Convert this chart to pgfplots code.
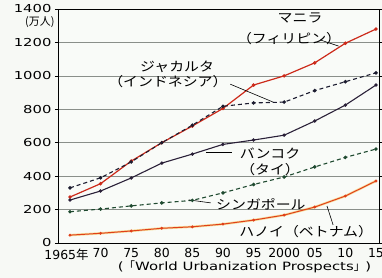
\documentclass[border=0pt]{standalone}
\usepackage{pgfplots}
\pgfplotsset{compat=1.18}
\usepackage{fontspec}
\setmainfont{DejaVu Sans}
\newfontfamily\jp[FakeStretch=1.15]{Noto Sans CJK JP}
\newfontfamily\jpn{Noto Sans CJK JP}
\newfontfamily\ylab[FakeStretch=1.35]{DejaVu Sans}
\newfontfamily\srcf[FakeStretch=1.3]{DejaVu Sans}
\definecolor{bg}{HTML}{F7F9F5}
\definecolor{manila}{HTML}{CC2A1A}
\definecolor{hanoi}{HTML}{E0401A}
\definecolor{hanoiglow}{HTML}{F5C040}
\definecolor{bangkok}{HTML}{2A2038}
\definecolor{jakarta}{HTML}{1C1C30}
\definecolor{sing}{HTML}{1F4A30}
\definecolor{gridc}{HTML}{8A8F8A}
\begin{document}
\begin{tikzpicture}[x=1bp,y=1bp]
\fill[bg] (0,0) rectangle (382,278);
\begin{axis}[
  at={(58bp,35bp)}, anchor=south west,
  scale only axis, width=321bp, height=234bp,
  xmin=1963.04, xmax=2015.5, ymin=0, ymax=1400,
  xtick={1965,1970,...,2015},
  xticklabels={\makebox[0pt]{1965{\jpn 年}\hspace{7bp}},70,75,80,85,90,95,2000,05,10,15},
  ytick={0,200,...,1400},
  yticklabels={0,200,400,600,800,1000,1200,\raisebox{2bp}{1400}},
  /pgf/number format/assume math mode=true,
  xticklabel style={font=\fontsize{12.5}{13}\selectfont, yshift=1bp},
  yticklabel style={font=\ylab\fontsize{11}{12}\selectfont, xshift=0bp},
  xtick style={draw=none},
  ytick style={black, line width=0.6pt},
  tick align=outside, major tick length=3bp,
  ymajorgrids, grid style={gridc, line width=0.5pt},
  axis line style={black, line width=0.9pt},
  clip=false,
  axis background/.style={fill=white, fill opacity=0.35},
]
% Manila
\addplot[manila, line width=1.2pt, mark=*, mark size=1.1pt] coordinates {
(1965,275)(1970,355)(1975,490)(1980,600)(1985,700)(1990,805)(1995,945)(2000,1000)(2005,1078)(2010,1195)(2015,1280)};
% Jakarta
\addplot[jakarta, line width=1.1pt, dash pattern=on 4bp off 3bp, mark=*, mark size=1.2pt, mark options={solid}] coordinates {
(1965,330)(1970,390)(1975,485)(1980,600)(1985,705)(1990,818)(1995,838)(2000,843)(2005,912)(2010,965)(2015,1018)};
% Bangkok
\addplot[bangkok, line width=1.1pt, mark=*, mark size=1.1pt] coordinates {
(1965,257)(1970,311)(1975,389)(1980,478)(1985,532)(1990,590)(1995,616)(2000,645)(2005,730)(2010,825)(2015,945)};
% Singapore
\addplot[sing, line width=1.1pt, dash pattern=on 4bp off 3bp, mark=*, mark size=1.2pt, mark options={solid}] coordinates {
(1965,187)(1970,203)(1975,222)(1980,240)(1985,255)(1990,300)(1995,350)(2000,395)(2005,455)(2010,512)(2015,562)};
% Hanoi (glow + line)
\addplot[hanoiglow, line width=2.4pt, opacity=0.5, forget plot] coordinates {
(1965,47)(1970,58)(1975,72)(1980,88)(1985,97)(1990,113)(1995,137)(2000,167)(2005,215)(2010,281)(2015,371)};
\addplot[hanoi, line width=1pt, mark=*, mark size=0.9pt] coordinates {
(1965,47)(1970,58)(1975,72)(1980,88)(1985,97)(1990,113)(1995,137)(2000,167)(2005,215)(2010,281)(2015,371)};
% labels
\tikzset{lab/.style={font=\jp\fontsize{13}{14}\selectfont, inner sep=0pt}}
\node[lab] at (axis cs:2002.6,1346) {マニラ};
\node[lab] at (axis cs:2000.8,1222) {（フィリピン）};
\draw[black, line width=0.6pt] (axis cs:2005.9,1215) -- (axis cs:2008.9,1178);
\node[lab] at (axis cs:1982.5,1053) {ジャカルタ};
\node[lab] at (axis cs:1981,963) {（インドネシア）};
\draw[black, line width=0.6pt] (axis cs:1991.2,950) -- (axis cs:1998.2,843);
\node[lab] at (axis cs:1997.7,538) {バンコク};
\node[lab] at (axis cs:1997.7,437) {（タイ）};
\draw[black, line width=0.6pt] (axis cs:1987.2,540) -- (axis cs:1991.4,540);
\node[lab] at (axis cs:1996.2,230) {シンガポール};
\draw[black, line width=0.6pt] (axis cs:1984.4,258) -- (axis cs:1988.0,240);
\node[lab] at (axis cs:2003.6,66) {ハノイ（ベトナム）};
\draw[black, line width=0.6pt] (axis cs:2007.0,221) -- (axis cs:2008.0,108);
\node[font=\jpn\fontsize{11}{12}\selectfont, anchor=east, inner sep=0pt] at (axis cs:1962.5,1322) {(万人)};
\node[font=\srcf\fontsize{11.5}{12}\selectfont, anchor=west, inner sep=0pt] at (axis cs:1972.8,-142) {({\jpn 「}World Urbanization Prospects{\jpn 」})};
\end{axis}
\pgfresetboundingbox
\useasboundingbox (0,0) rectangle (382,278);
\end{tikzpicture}
\end{document}
